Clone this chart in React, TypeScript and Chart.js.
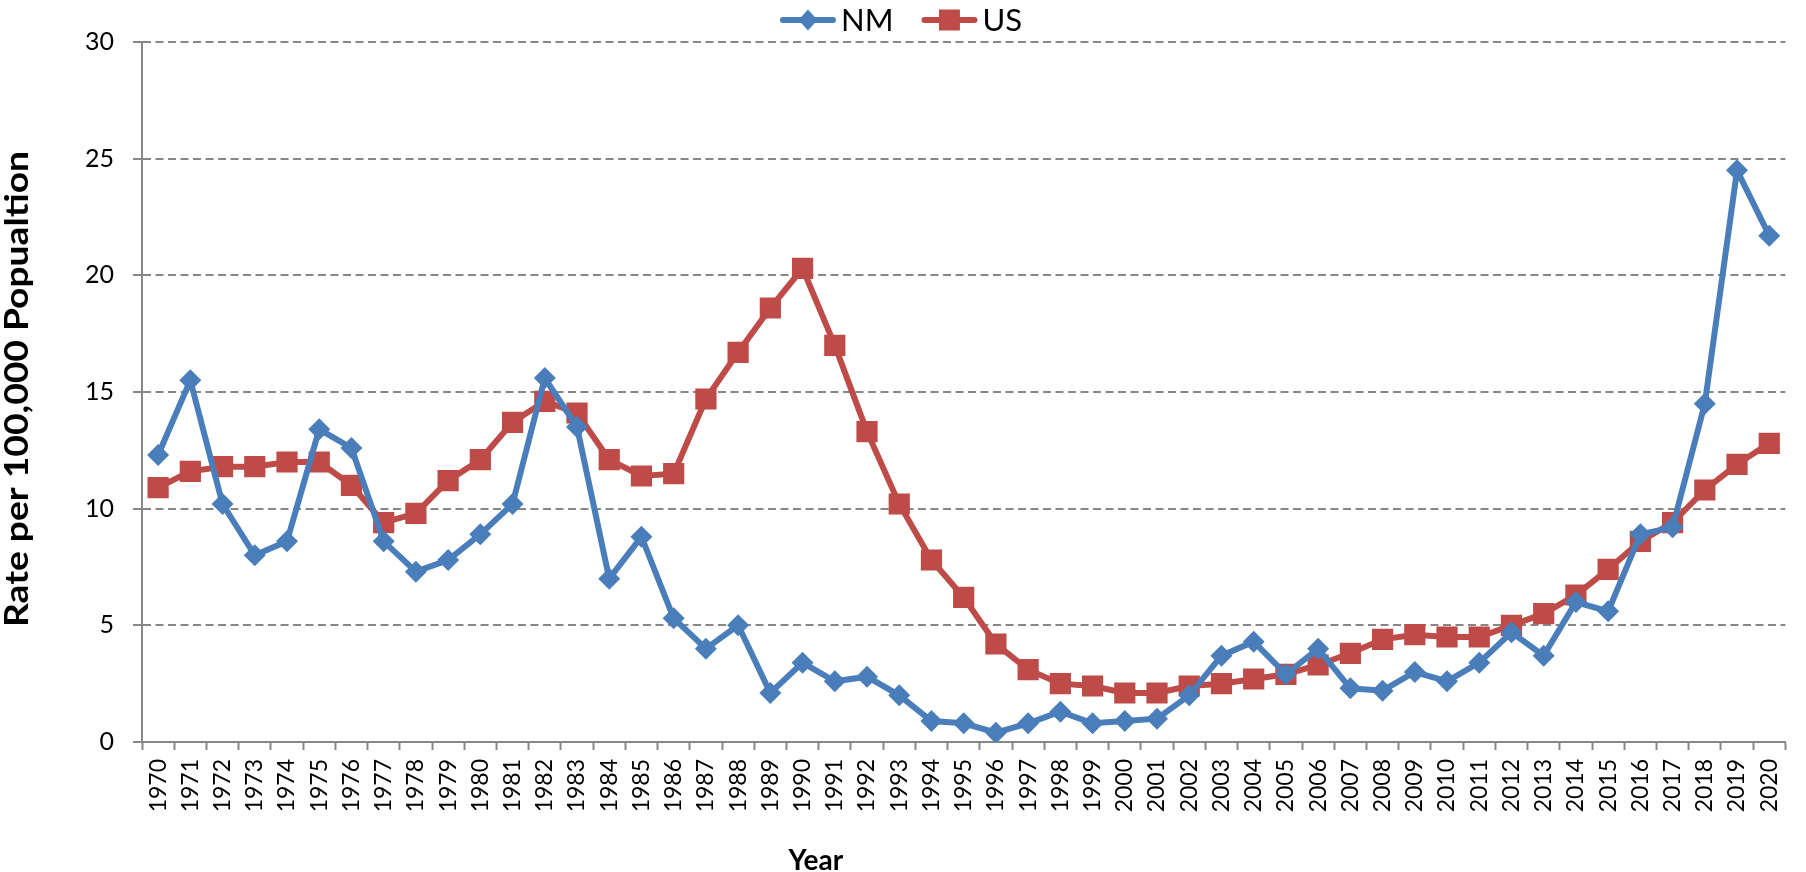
import React, { useEffect, useRef } from "react";
import { Chart, registerables } from "chart.js";

Chart.register(...registerables);

const years: string[] = [
  "1970","1971","1972","1973","1974","1975","1976","1977","1978","1979",
  "1980","1981","1982","1983","1984","1985","1986","1987","1988","1989",
  "1990","1991","1992","1993","1994","1995","1996","1997","1998","1999",
  "2000","2001","2002","2003","2004","2005","2006","2007","2008","2009",
  "2010","2011","2012","2013","2014","2015","2016","2017","2018","2019","2020",
];

const nmValues: number[] = [
  12.3, 15.5, 10.2, 8.0, 8.6, 13.4, 12.6, 8.6, 7.3, 7.8,
  8.9, 10.2, 15.6, 13.5, 7.0, 8.8, 5.3, 4.0, 5.0, 2.1,
  3.4, 2.6, 2.8, 2.0, 0.9, 0.8, 0.4, 0.8, 1.3, 0.8,
  0.9, 1.0, 2.0, 3.7, 4.3, 2.9, 4.0, 2.3, 2.2, 3.0,
  2.6, 3.4, 4.7, 3.7, 6.0, 5.6, 8.9, 9.2, 14.5, 24.5, 21.7,
];

const usValues: number[] = [
  10.9, 11.6, 11.8, 11.8, 12.0, 12.0, 11.0, 9.4, 9.8, 11.2,
  12.1, 13.7, 14.6, 14.1, 12.1, 11.4, 11.5, 14.7, 16.7, 18.6,
  20.3, 17.0, 13.3, 10.2, 7.8, 6.2, 4.2, 3.1, 2.5, 2.4,
  2.1, 2.1, 2.4, 2.5, 2.7, 2.9, 3.3, 3.8, 4.4, 4.6,
  4.5, 4.5, 5.0, 5.5, 6.3, 7.4, 8.6, 9.4, 10.8, 11.9, 12.8,
];

const yTicks: number[] = [0, 5, 10, 15, 20, 25, 30];

const NM_COLOR = "#4A7EBB";
const US_COLOR = "#BE4B48";
const GRID = "#878787";
const FONT = "Lato, 'Open Sans', sans-serif";

const overlayPlugin = {
  id: "overlay",
  afterDraw(chart: any) {
    const { ctx, chartArea, width } = chart;
    ctx.save();
    // Y title
    ctx.fillStyle = "#000";
    ctx.font = `bold 32px ${FONT}`;
    ctx.textAlign = "center";
    ctx.textBaseline = "middle";
    const yTitle = "Rate per 100,000 Popualtion";
    const targetLen = (chartArea.bottom - chartArea.top) * 0.68;
    const measured = ctx.measureText(yTitle).width;
    ctx.save();
    ctx.translate(18, (chartArea.top + chartArea.bottom) / 2 - 3);
    ctx.rotate(-Math.PI / 2);
    ctx.scale(targetLen / measured, 1);
    ctx.fillText(yTitle, 0, 0);
    ctx.restore();
    // X title
    ctx.font = `bold 28px ${FONT}`;
    ctx.fillText("Year", chartArea.left + 0.41 * (chartArea.right - chartArea.left), 861);

    // Legend
    const items = [
      { label: "NM", color: NM_COLOR, shape: "diamond" },
      { label: "US", color: US_COLOR, shape: "square" },
    ];
    ctx.font = `31px ${FONT}`;
    const lineLen = 56;
    const gap = 5;
    const itemGap = 28;
    const widths = items.map((it) => ctx.measureText(it.label).width);
    const total = items.reduce((s, _it, i) => s + lineLen + gap + widths[i], 0) + itemGap * (items.length - 1);
    let x = width / 2 - total / 2 - 2;
    const y = 20;
    items.forEach((it, i) => {
      ctx.strokeStyle = it.color;
      ctx.lineWidth = 6;
      ctx.lineCap = "round";
      ctx.beginPath();
      ctx.moveTo(x + 3, y);
      ctx.lineTo(x + lineLen - 3, y);
      ctx.stroke();
      const cx = x + lineLen / 2;
      ctx.fillStyle = it.color;
      ctx.beginPath();
      if (it.shape === "diamond") {
        ctx.moveTo(cx, y - 10.5);
        ctx.lineTo(cx + 9.5, y);
        ctx.lineTo(cx, y + 10.5);
        ctx.lineTo(cx - 9.5, y);
      } else {
        ctx.rect(cx - 10.5, y - 10.5, 21, 21);
      }
      ctx.closePath();
      ctx.fill();
      ctx.fillStyle = "#000";
      ctx.textAlign = "left";
      ctx.textBaseline = "middle";
      ctx.fillText(it.label, x + lineLen + gap, y + 1);
      x += lineLen + gap + widths[i] + itemGap;
    });
    ctx.restore();
  },
};

export default function App() {
  const canvasRef = useRef<HTMLCanvasElement | null>(null);

  useEffect(() => {
    const canvas = canvasRef.current;
    if (!canvas) return;
    const chart = new Chart(canvas, {
      type: "line",
      data: {
        labels: years,
        datasets: [
          {
            label: "NM",
            data: nmValues,
            borderColor: NM_COLOR,
            backgroundColor: NM_COLOR,
            borderWidth: 6,
            pointStyle: "rectRot",
            pointRadius: 11,
            pointBorderWidth: 0,
            pointBackgroundColor: NM_COLOR,
            tension: 0,
          },
          {
            label: "US",
            data: usValues,
            borderColor: US_COLOR,
            backgroundColor: US_COLOR,
            borderWidth: 6,
            pointStyle: "rect",
            pointRadius: 15,
            pointBorderWidth: 0,
            pointBackgroundColor: US_COLOR,
            tension: 0,
          },
        ],
      },
      options: {
        animation: false,
        responsive: false,
        layout: { padding: { top: 42, left: 0, right: 0, bottom: 0 } },
        plugins: {
          legend: { display: false },
          tooltip: { enabled: false },
        },
        scales: {
          x: {
            type: "category",
            offset: true,
            grid: {
              offset: true,
              drawOnChartArea: false,
              drawTicks: true,
              tickLength: 8,
              tickColor: GRID,
              tickWidth: 2,
            },
            border: { display: true, color: GRID, width: 2 },
            ticks: {
              autoSkip: false,
              minRotation: 90,
              maxRotation: 90,
              padding: 9,
              color: "#000",
              font: { family: FONT, size: 23 },
            },
            afterFit(scale: any) {
              scale.height = 130;
            },
          },
          y: {
            min: 0,
            max: 30,
            afterBuildTicks(scale: any) {
              scale.ticks = yTicks.map((v) => ({ value: v }));
            },
            grid: {
              color: GRID,
              lineWidth: 2,
              drawTicks: true,
              tickLength: 9,
              tickColor: GRID,
              tickWidth: 2,
              tickBorderDash: [],
            },
            border: { display: true, color: GRID, width: 2, dash: [8, 4.5] },
            ticks: {
              padding: 19,
              color: "#000",
              font: { family: FONT, size: 25 },
            },
            afterFit(scale: any) {
              scale.width = 142;
            },
          },
        },
      },
      plugins: [overlayPlugin],
    } as any);
    return () => chart.destroy();
  }, []);

  return (
    <div style={{ position: "fixed", left: 0, top: 0, width: 1806, height: 872, background: "#fff" }}>
      <canvas ref={canvasRef} width={1806} height={872} style={{ display: "block" }} />
    </div>
  );
}
